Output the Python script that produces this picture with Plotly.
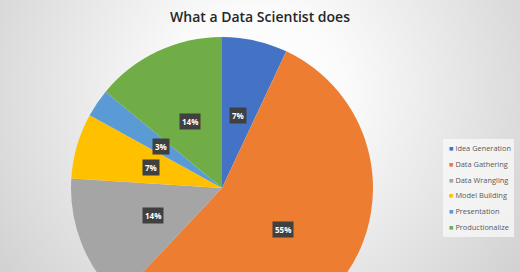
import math
import base64
import plotly.graph_objects as go

# ---- data ----
categories = ["Idea Generation", "Data Gathering", "Data Wrangling",
              "Model Building", "Presentation", "Productionalize"]
values = [7, 55, 14, 7, 3, 14]
colors = ["#4472C4", "#ED7D31", "#A5A5A5", "#FFC000", "#5B9BD5", "#70AD47"]
title_text = "What a Data Scientist does"

# ---- layout geometry (pixels) ----
W, H = 520, 344
CX, CY, R = 222, 188, 151
LABEL_FRAC = 0.49
LEG_X, LEG_Y0, LEG_STEP = 447, 148.3, 15.7

dom_x = [(CX - R) / W, (CX + R) / W]
dom_y = [1 - (CY + R) / H, 1 - (CY - R) / H]

fig = go.Figure()
fig.add_trace(go.Pie(
    labels=categories, values=values, sort=False, direction="clockwise",
    rotation=0, marker=dict(colors=colors, line=dict(width=0)),
    textinfo="none", hoverinfo="label+percent",
    domain=dict(x=dom_x, y=dom_y), showlegend=False,
))

# percentage labels with dark boxes, placed at slice mid-angles
total = sum(values)
cum = 0
annotations = []
for v in values:
    mid = (cum + v / 2) / total * 2 * math.pi
    cum += v
    px = CX + LABEL_FRAC * R * math.sin(mid)
    py = CY - LABEL_FRAC * R * math.cos(mid)
    annotations.append(dict(
        x=px / W, y=1 - py / H, xref="paper", yref="paper",
        text="<b>%d%%</b>" % round(v / total * 100), showarrow=False,
        font=dict(family="Open Sans", size=8, color="white"),
        bgcolor="#404040", borderpad=2, xanchor="center", yanchor="middle",
    ))

# legend (compact, Excel-like)
for i, (cat, col) in enumerate(zip(categories, colors)):
    annotations.append(dict(
        x=LEG_X / W, y=1 - (LEG_Y0 + i * LEG_STEP) / H, xref="paper", yref="paper",
        text='<span style="color:%s">■</span> %s' % (col, cat), showarrow=False,
        font=dict(family="Open Sans", size=7.4, color="#595959"),
        xanchor="left", yanchor="middle",
    ))

# radial gradient background
svg = ('<svg xmlns="http://www.w3.org/2000/svg" width="520" height="344" viewBox="0 0 520 344">'
       '<defs><radialGradient id="g" cx="260" cy="90" r="330" gradientUnits="userSpaceOnUse">'
       '<stop offset="0" stop-color="#ffffff"/><stop offset="0.25" stop-color="#fbfbfb"/>'
       '<stop offset="1" stop-color="#cfcfcf"/></radialGradient></defs>'
       '<rect width="520" height="344" fill="url(#g)"/></svg>')
src = "data:image/svg+xml;base64," + base64.b64encode(svg.encode()).decode()

fig.update_layout(
    width=W, height=H, margin=dict(l=0, r=0, t=0, b=0, autoexpand=False),
    paper_bgcolor="#e6e6e6", plot_bgcolor="rgba(0,0,0,0)",
    title=dict(text=title_text, x=0.5, xanchor="center", y=1 - 17 / H, yanchor="middle",
               font=dict(family="Open Sans", size=14, color="#262626", weight=600)),
    showlegend=False,
    annotations=annotations,
    shapes=[dict(type="rect", xref="paper", yref="paper",
                 x0=443 / W, x1=514 / W, y0=1 - 237 / H, y1=1 - 139 / H,
                 fillcolor="rgba(250,250,250,0.75)", line=dict(width=0), layer="below")],
    images=[dict(source=src, xref="paper", yref="paper", x=0, y=1, sizex=1, sizey=1,
                 sizing="stretch", layer="below", xanchor="left", yanchor="top")],
)

fig.write_html("out.html", post_script="document.body.style.margin='0';document.body.style.overflow='hidden';document.documentElement.style.overflow='hidden';")
